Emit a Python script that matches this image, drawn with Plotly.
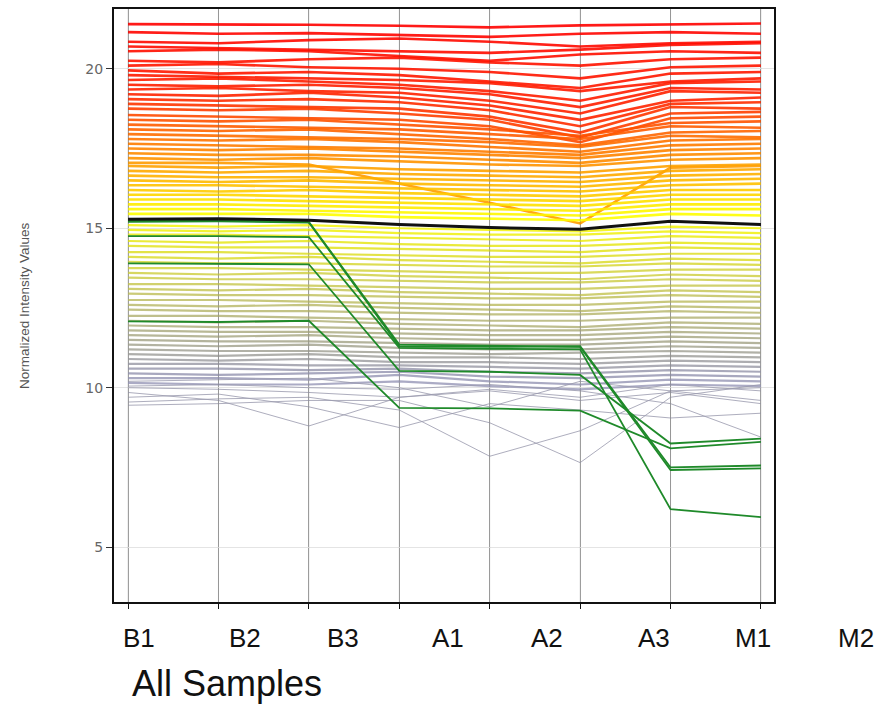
import plotly.graph_objects as go
from plotly.colors import sample_colorscale

# Sample conditions
samples = ["B1", "B2", "B3", "A1", "A2", "A3", "M1", "M2"]

# Entity profiles (normalized intensity per sample)
upper_profiles = [
    [21.40, 21.40, 21.38, 21.35, 21.30, 21.36, 21.40, 21.42],
    [21.15, 21.10, 21.12, 21.05, 21.00, 21.10, 21.15, 21.10],
    [20.85, 20.80, 20.90, 20.95, 20.85, 20.70, 20.80, 20.85],
    [20.70, 20.65, 20.60, 20.55, 20.50, 20.60, 20.75, 20.80],
    [20.55, 20.60, 20.55, 20.40, 20.25, 20.45, 20.55, 20.50],
    [20.25, 20.20, 20.30, 20.35, 20.20, 20.10, 20.30, 20.35],
    [20.10, 20.15, 20.05, 20.00, 19.90, 19.70, 20.05, 20.10],
    [19.95, 19.85, 19.90, 19.80, 19.60, 19.40, 19.85, 19.90],
    [19.80, 19.75, 19.70, 19.65, 19.55, 19.30, 19.60, 19.70],
    [19.65, 19.70, 19.60, 19.50, 19.30, 19.00, 19.55, 19.60],
    [19.50, 19.45, 19.50, 19.40, 19.20, 18.80, 19.40, 19.35],
    [19.35, 19.40, 19.30, 19.25, 19.00, 18.60, 19.30, 19.25],
    [19.20, 19.15, 19.25, 19.10, 18.85, 18.40, 19.00, 19.10],
    [19.05, 19.00, 19.05, 18.95, 18.70, 18.20, 18.90, 18.95],
    [18.90, 18.85, 18.80, 18.75, 18.50, 18.00, 18.80, 18.75],
    [18.75, 18.70, 18.75, 18.60, 18.40, 17.85, 18.60, 18.65],
    [18.55, 18.50, 18.45, 18.40, 18.20, 17.70, 18.45, 18.50],
    [18.40, 18.35, 18.40, 18.25, 18.10, 17.90, 18.30, 18.35],
    [18.25, 18.20, 18.15, 18.10, 17.95, 17.80, 18.20, 18.15],
    [18.10, 18.05, 18.10, 17.95, 17.80, 17.60, 18.00, 18.05],
    [17.95, 17.90, 17.85, 17.80, 17.70, 17.55, 17.90, 17.85],
    [17.80, 17.75, 17.80, 17.70, 17.55, 17.40, 17.75, 17.80],
    [17.65, 17.60, 17.55, 17.50, 17.40, 17.30, 17.60, 17.65],
    [17.50, 17.45, 17.50, 17.40, 17.30, 17.20, 17.45, 17.50],
    [17.35, 17.30, 17.30, 17.25, 17.15, 17.05, 17.30, 17.35],
    [17.20, 17.15, 17.20, 17.10, 17.00, 16.95, 17.15, 17.20],
    [17.05, 17.05, 17.00, 16.40, 15.80, 15.15, 16.90, 16.95],
    [16.95, 16.90, 16.95, 16.85, 16.80, 16.75, 16.95, 17.00],
    [16.80, 16.75, 16.80, 16.70, 16.65, 16.60, 16.80, 16.85],
    [16.65, 16.60, 16.60, 16.55, 16.50, 16.45, 16.65, 16.70],
    [16.50, 16.45, 16.50, 16.40, 16.35, 16.30, 16.50, 16.55],
    [16.35, 16.35, 16.30, 16.25, 16.20, 16.15, 16.35, 16.40],
    [16.20, 16.15, 16.20, 16.10, 16.05, 16.00, 16.20, 16.20],
    [16.05, 16.05, 16.00, 15.95, 15.90, 15.85, 16.05, 16.05],
    [15.90, 15.90, 15.85, 15.80, 15.75, 15.70, 15.90, 15.90],
    [15.75, 15.75, 15.70, 15.65, 15.60, 15.55, 15.75, 15.75],
    [15.60, 15.60, 15.55, 15.50, 15.45, 15.40, 15.60, 15.60],
    [15.45, 15.45, 15.45, 15.35, 15.30, 15.25, 15.45, 15.40],
]

lower_profiles = [
    [15.10, 15.05, 15.10, 15.00, 14.95, 14.90, 15.05, 15.00],
    [14.95, 14.90, 14.95, 14.85, 14.80, 14.80, 14.90, 14.85],
    [14.80, 14.80, 14.75, 14.70, 14.65, 14.60, 14.75, 14.70],
    [14.60, 14.55, 14.60, 14.50, 14.45, 14.45, 14.55, 14.50],
    [14.45, 14.40, 14.40, 14.35, 14.30, 14.25, 14.40, 14.35],
    [14.25, 14.25, 14.20, 14.15, 14.10, 14.10, 14.20, 14.20],
    [14.10, 14.05, 14.10, 14.00, 13.95, 13.90, 14.05, 14.00],
    [13.95, 13.90, 13.90, 13.85, 13.80, 13.80, 13.90, 13.85],
    [13.75, 13.75, 13.70, 13.65, 13.60, 13.60, 13.70, 13.70],
    [13.60, 13.55, 13.60, 13.50, 13.45, 13.40, 13.55, 13.50],
    [13.45, 13.40, 13.40, 13.35, 13.30, 13.30, 13.40, 13.35],
    [13.25, 13.25, 13.20, 13.15, 13.10, 13.10, 13.20, 13.20],
    [13.10, 13.05, 13.10, 13.00, 12.95, 12.90, 13.05, 13.00],
    [12.95, 12.90, 12.90, 12.85, 12.80, 12.80, 12.90, 12.85],
    [12.75, 12.75, 12.70, 12.65, 12.60, 12.60, 12.70, 12.70],
    [12.60, 12.55, 12.60, 12.50, 12.45, 12.40, 12.55, 12.50],
    [12.45, 12.40, 12.40, 12.35, 12.30, 12.30, 12.40, 12.35],
    [12.25, 12.25, 12.20, 12.15, 12.10, 12.10, 12.20, 12.20],
    [12.10, 12.05, 12.10, 12.00, 11.95, 11.90, 12.05, 12.00],
    [11.95, 11.90, 11.90, 11.85, 11.80, 11.80, 11.90, 11.85],
    [11.80, 11.75, 11.75, 11.70, 11.65, 11.65, 11.75, 11.70],
    [11.65, 11.60, 11.65, 11.55, 11.50, 11.50, 11.60, 11.55],
    [11.50, 11.45, 11.45, 11.40, 11.35, 11.35, 11.45, 11.40],
    [11.35, 11.30, 11.35, 11.25, 11.20, 11.20, 11.30, 11.25],
    [11.20, 11.15, 11.15, 11.10, 11.05, 11.10, 11.15, 11.10],
    [11.05, 11.00, 11.05, 10.95, 10.95, 10.90, 11.00, 10.95],
    [10.90, 10.85, 10.90, 10.80, 10.80, 10.75, 10.85, 10.80],
    [10.75, 10.75, 10.70, 10.70, 10.65, 10.60, 10.70, 10.65],
    [10.60, 10.60, 10.55, 10.60, 10.50, 10.45, 10.55, 10.50],
    [10.45, 10.40, 10.45, 10.50, 10.35, 10.30, 10.40, 10.35],
    [10.30, 10.30, 10.25, 10.40, 10.20, 10.10, 10.25, 10.20],
    [10.15, 10.10, 10.10, 10.20, 10.05, 9.95, 10.10, 10.05],
]

# low, noisy entities that cross each other
crossing_profiles = [
    [10.00, 9.95, 9.85, 9.70, 9.90, 9.60, 9.85, 9.50],
    [9.85, 9.60, 8.80, 9.70, 9.95, 9.70, 10.10, 9.90],
    [9.70, 9.80, 9.40, 8.75, 9.50, 9.30, 9.05, 9.20],
    [9.55, 9.65, 9.70, 9.30, 7.85, 8.65, 9.90, 10.00],
    [9.45, 9.50, 9.60, 9.60, 8.90, 7.65, 9.70, 10.10],
    [10.05, 10.10, 10.00, 9.95, 10.10, 9.90, 9.50, 8.45],
    [10.20, 10.25, 10.30, 10.00, 9.40, 10.20, 9.90, 9.60],
]

# highlighted entities (green) and the selected entity (black)
green_profiles = [
    [15.20, 15.22, 15.18, 11.30, 11.28, 11.30, 7.50, 7.56],
    [15.25, 15.25, 15.20, 11.35, 11.32, 11.28, 7.42, 7.47],
    [14.75, 14.75, 14.72, 11.25, 11.22, 11.20, 6.19, 5.94],
    [13.90, 13.88, 13.87, 10.53, 10.50, 10.40, 8.25, 8.40],
    [12.08, 12.06, 12.10, 9.37, 9.35, 9.28, 8.10, 8.30],
]
selected_profile = [15.28, 15.30, 15.25, 15.12, 15.02, 14.97, 15.22, 15.12]

# colour by the B1 value: low = grey-blue, mid = yellow, high = red
vmin, vmax = 9.5, 21.5
intensity_scale = [
    [0.000, "#a4a4cc"],
    [0.083, "#9a9ab4"],
    [0.167, "#a8a88c"],
    [0.250, "#baba72"],
    [0.333, "#cfcf4c"],
    [0.417, "#e4e41c"],
    [0.500, "#ffff00"],
    [0.567, "#ffc400"],
    [0.642, "#ff9400"],
    [0.725, "#ff6000"],
    [0.808, "#ff2400"],
    [1.000, "#ff0000"],
]


def colour_for(v):
    t = min(max((v - vmin) / (vmax - vmin), 0), 1)
    return sample_colorscale(intensity_scale, [t])[0]


x = list(range(len(samples)))
fig = go.Figure()

for prof in upper_profiles:
    fig.add_trace(go.Scatter(x=x, y=prof, mode="lines", opacity=0.9,
                             line=dict(color=colour_for(prof[0]), width=2.6),
                             showlegend=False, hoverinfo="skip"))

for prof in lower_profiles:
    fig.add_trace(go.Scatter(x=x, y=prof, mode="lines", opacity=0.85,
                             line=dict(color=colour_for(prof[0]), width=2.2),
                             showlegend=False, hoverinfo="skip"))

for prof in crossing_profiles:
    fig.add_trace(go.Scatter(x=x, y=prof, mode="lines", opacity=0.8,
                             line=dict(color="#9a9aae", width=1),
                             showlegend=False, hoverinfo="skip"))

for prof in green_profiles:
    fig.add_trace(go.Scatter(x=x, y=prof, mode="lines",
                             line=dict(color="#1f8a2a", width=1.8),
                             showlegend=False, hoverinfo="skip"))

fig.add_trace(go.Scatter(x=x, y=selected_profile, mode="lines",
                         line=dict(color="#111111", width=3),
                         showlegend=False, hoverinfo="skip"))

# thin sample separators that show through the dense lines
for i in x:
    fig.add_vline(x=i, line=dict(color="rgba(70,70,70,0.18)", width=1), layer="above")

# plot area is 114..774 px wide, 7..602 px tall
L, R, T, B = 114, 774, 7, 602


def px(xp):
    return (xp - L) / (R - L)


def py(yp):
    return (B - yp) / (B - T)


annotations = []
label_x = [139, 245, 343, 448, 547, 654, 753, 856]
for lab, xp in zip(samples, label_x):
    annotations.append(dict(text=lab, x=px(xp), y=py(638), xref="paper", yref="paper",
                            xanchor="center", yanchor="middle", showarrow=False,
                            font=dict(family="Liberation Sans, Arial", size=26, color="#111111")))
annotations.append(dict(text="All Samples", x=px(131), y=py(662), xref="paper", yref="paper",
                        xanchor="left", yanchor="top", showarrow=False, borderpad=0,
                        font=dict(family="Liberation Sans, Arial", size=36, color="#111111")))
annotations.append(dict(text="Normalized Intensity Values", x=px(25), y=py(305),
                        xref="paper", yref="paper", xanchor="center", yanchor="middle",
                        textangle=-90, showarrow=False,
                        font=dict(family="Liberation Sans, DejaVu Sans", size=13.5,
                                  color="#555555")))

fig.update_layout(
    width=877, height=704,
    margin=dict(l=L, r=877 - R, t=T, b=704 - B),
    paper_bgcolor="white", plot_bgcolor="white",
    annotations=annotations,
    xaxis=dict(range=[-0.155, 7.144], tickvals=x, showticklabels=False,
               ticks="outside", ticklen=5, tickcolor="#111111",
               showgrid=True, gridcolor="#a8a8a8", gridwidth=1, zeroline=False,
               showline=True, linecolor="#111111", linewidth=2, mirror=True),
    yaxis=dict(range=[3.28, 21.875], tickvals=[5, 10, 15, 20],
               ticks="outside", ticklen=6, tickcolor="#333333",
               tickfont=dict(family="DejaVu Sans", size=14, color="#666666"),
               showgrid=True, gridcolor="#e4e4e4", gridwidth=1, zeroline=False,
               showline=True, linecolor="#111111", linewidth=2, mirror=True),
)

fig.write_html("out.html", config={"displayModeBar": False},
               post_script="document.body.style.margin='0px';")
